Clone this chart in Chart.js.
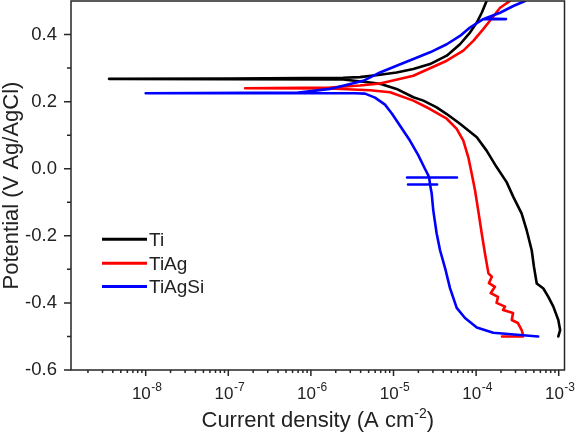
<!DOCTYPE html>
<html><head><meta charset="utf-8">
<script src="https://cdn.jsdelivr.net/npm/chart.js@4.4.1/dist/chart.umd.min.js"></script>
<style>html,body{margin:0;padding:0;background:#fff;}canvas{display:block;}</style>
</head><body>
<canvas id="c" width="575" height="439"></canvas>
<script>
// ---- data (current density in A cm^-2, potential in V vs Ag/AgCl) ----
const seriesNames = ['Ti', 'TiAg', 'TiAgSi'];
const seriesColors = ['#000000', '#ff0000', '#0000ff'];

const tiCurrent = [9.89e-4, 1.04e-3, 9.89e-4, 8.61e-4, 7.49e-4, 6.52e-4, 5.42e-4, 5.02e-4, 4.71e-4, 4.10e-4, 3.56e-4, 2.82e-4, 2.34e-4, 1.77e-4, 1.34e-4, 1.02e-4, 6.38e-5, 4.41e-5, 3.33e-5, 2.30e-5, 1.74e-5, 1.09e-5, 6.87e-6, 5.2e-6, 2.47e-6, 3.6e-9, 1.05e-7, 2.45e-6, 3.93e-6, 6.87e-6, 1.09e-5, 1.74e-5, 2.77e-5, 4.41e-5, 6.38e-5, 8.43e-5, 1.02e-4, 1.17e-4, 1.34e-4];
const tiPotential = [-0.500, -0.481, -0.451, -0.411, -0.382, -0.357, -0.342, -0.293, -0.243, -0.184, -0.134, -0.084, -0.040, 0.005, 0.054, 0.094, 0.134, 0.163, 0.183, 0.203, 0.213, 0.238, 0.253, 0.257, 0.266, 0.268, 0.269, 0.271, 0.273, 0.280, 0.287, 0.297, 0.312, 0.337, 0.371, 0.406, 0.436, 0.465, 0.500];

const tiAgCurrent = [2.06e-4, 3.7e-4, 3.7e-4, 3.56e-4, 3.21e-4, 2.7e-4, 2.8e-4, 2.12e-4, 2.24e-4, 1.77e-4, 1.84e-4, 1.5e-4, 1.69e-4, 1.43e-4, 1.55e-4, 1.41e-4, 1.28e-4, 1.17e-4, 1.06e-4, 9.70e-5, 8.85e-5, 8.05e-5, 7.0e-5, 5.82e-5, 4.41e-5, 2.77e-5, 1.74e-5, 9.1e-6, 5.2e-6, 1.7e-6, 1.6e-7, 1.7e-6, 3.93e-6, 6.87e-6, 1.74e-5, 4.41e-5, 7.0e-5, 9.25e-5, 1.22e-4, 1.47e-4, 1.95e-4, 2.57e-4];
const tiAgPotential = [-0.500, -0.500, -0.495, -0.481, -0.460, -0.451, -0.430, -0.421, -0.411, -0.400, -0.382, -0.371, -0.352, -0.341, -0.322, -0.312, -0.253, -0.193, -0.124, -0.064, -0.015, 0.034, 0.084, 0.119, 0.149, 0.178, 0.203, 0.228, 0.234, 0.239, 0.240, 0.242, 0.248, 0.254, 0.277, 0.322, 0.352, 0.381, 0.416, 0.441, 0.480, 0.500];

const tiAgSiCurrent = [5.64e-4, 1.61e-4, 1.02e-4, 7.34e-5, 5.82e-5, 4.83e-5, 4.21e-5, 3.66e-5, 3.33e-5, 3.03e-5, 2.90e-5, 2.77e-5, 3.37e-5, 1.5e-5, 2.77e-5, 2.70e-5, 5.87e-5, 1.46e-5, 2.70e-5, 2.64e-5, 2.40e-5, 2.0e-5, 1.58e-5, 1.2e-5, 9.59e-6, 7.89e-6, 5.97e-6, 4.52e-6, 3.4e-6, 1e-8, 1.83e-7, 6.73e-7, 1.70e-6, 4.31e-6, 6.87e-6, 1.09e-5, 1.74e-5, 2.77e-5, 4.41e-5, 6.38e-5, 8.43e-5, 1.22e-4, 2.30e-4, 1.28e-4, 1.95e-4, 2.82e-4, 3.91e-4];
const tiAgSiPotential = [-0.500, -0.489, -0.473, -0.445, -0.415, -0.356, -0.296, -0.243, -0.193, -0.124, -0.074, -0.047, -0.047, -0.047, -0.047, -0.026, -0.026, -0.026, -0.026, -0.020, 0.000, 0.040, 0.084, 0.128, 0.164, 0.191, 0.212, 0.224, 0.225, 0.225, 0.226, 0.226, 0.238, 0.262, 0.287, 0.307, 0.327, 0.347, 0.371, 0.396, 0.421, 0.446, 0.446, 0.448, 0.465, 0.485, 0.500];

const yTickValues = [-0.6, -0.4, -0.2, 0.0, 0.2, 0.4];
const yMinorTickValues = [-0.5, -0.3, -0.1, 0.1, 0.3];
const xDecadeExponents = [-8, -7, -6, -5, -4, -3];
const xTitleMain = 'Current density (A cm';
const xTitleSup = '-2';
const xTitleEnd = ')';
const yTitle = 'Potential (V Ag/AgCl)';

const FONT = '"Liberation Sans", Arial, sans-serif';

function toPoints(xs, ys) { return xs.map((v, i) => ({ x: v, y: ys[i] })); }

const datasets = [
  { label: seriesNames[0], data: toPoints(tiCurrent, tiPotential), borderColor: seriesColors[0], order: 3 },
  { label: seriesNames[1], data: toPoints(tiAgCurrent, tiAgPotential), borderColor: seriesColors[1], order: 2 },
  { label: seriesNames[2], data: toPoints(tiAgSiCurrent, tiAgSiPotential), borderColor: seriesColors[2], order: 1 }
].map(d => Object.assign(d, { showLine: true, borderWidth: 2.6, pointRadius: 0, tension: 0, fill: false, borderJoinStyle: 'round', borderCapStyle: 'round' }));

const decorPlugin = {
  id: 'decor',
  afterDatasetsDraw(chart) {
    const { ctx, chartArea: a, scales: { x, y } } = chart;
    ctx.save();
    ctx.strokeStyle = '#262626';
    ctx.fillStyle = '#262626';
    ctx.lineWidth = 1.5;
    ctx.strokeRect(a.left, a.top, a.right - a.left, a.bottom - a.top);
    ctx.beginPath();
    yTickValues.forEach(v => { const p = y.getPixelForValue(v); ctx.moveTo(a.left - 7, p); ctx.lineTo(a.left, p); });
    yMinorTickValues.forEach(v => { const p = y.getPixelForValue(v); ctx.moveTo(a.left - 4, p); ctx.lineTo(a.left, p); });
    xDecadeExponents.forEach(e => { const p = x.getPixelForValue(Math.pow(10, e)); ctx.moveTo(p, a.bottom); ctx.lineTo(p, a.bottom + 6); });
    for (let e = -10; e <= -3; e++) {
      for (let m = 2; m <= 9; m++) {
        const v = m * Math.pow(10, e);
        if (v < x.min || v > x.max) continue;
        const p = x.getPixelForValue(v);
        ctx.moveTo(p, a.bottom); ctx.lineTo(p, a.bottom + 3);
      }
    }
    ctx.stroke();

    // y tick labels
    ctx.fillStyle = '#222';
    ctx.font = '18.5px ' + FONT;
    ctx.textAlign = 'right';
    ctx.textBaseline = 'middle';
    yTickValues.forEach(v => ctx.fillText(v.toFixed(1), a.left - 14, y.getPixelForValue(v)));

    // x tick labels 10^n
    ctx.textBaseline = 'alphabetic';
    ctx.textAlign = 'left';
    xDecadeExponents.forEach(e => {
      const p = x.getPixelForValue(Math.pow(10, e));
      ctx.font = '17px ' + FONT; const w1 = ctx.measureText('10').width;
      ctx.font = '12px ' + FONT; const w2 = ctx.measureText(String(e)).width;
      const start = p + 1 - (w1 + w2) / 2;
      ctx.font = '17px ' + FONT; ctx.fillText('10', start, a.bottom + 28.5);
      ctx.font = '12px ' + FONT; ctx.fillText(String(e), start + w1 + 0.5, a.bottom + 20.8);
    });

    // x title
    const cx = (a.left + a.right) / 2;
    ctx.font = '22px ' + FONT; const t1 = ctx.measureText(xTitleMain).width; const t3 = ctx.measureText(xTitleEnd).width;
    ctx.font = '14px ' + FONT; const t2 = ctx.measureText(xTitleSup).width;
    const sx = cx - (t1 + t2 + t3) / 2;
    ctx.font = '22px ' + FONT; ctx.fillText(xTitleMain, sx, 426.5);
    ctx.font = '14px ' + FONT; ctx.fillText(xTitleSup, sx + t1, 417.5);
    ctx.font = '22px ' + FONT; ctx.fillText(xTitleEnd, sx + t1 + t2, 426.5);

    // y title
    ctx.save();
    ctx.translate(18, (a.top + a.bottom) / 2);
    ctx.rotate(-Math.PI / 2);
    ctx.textAlign = 'center';
    ctx.font = '22px ' + FONT;
    ctx.fillText(yTitle, 0, 0);
    ctx.restore();

    // legend
    const legY = [239.3, 263.3, 286.5];
    chart.data.datasets.forEach((d, i) => {
      ctx.strokeStyle = d.borderColor;
      ctx.lineWidth = 3;
      ctx.beginPath(); ctx.moveTo(102, legY[i]); ctx.lineTo(147, legY[i]); ctx.stroke();
      ctx.fillStyle = '#222';
      ctx.font = '19px ' + FONT;
      ctx.textAlign = 'left';
      ctx.fillText(d.label, 149, legY[i] + 6.5);
    });
    ctx.restore();
  }
};

new Chart(document.getElementById('c'), {
  type: 'scatter',
  data: { datasets },
  options: {
    responsive: false,
    animation: false,
    devicePixelRatio: 1,
    layout: { padding: { left: 71, right: 10.5, top: 1, bottom: 69 } },
    plugins: { legend: { display: false }, tooltip: { enabled: false } },
    scales: {
      x: { type: 'logarithmic', min: 1.247e-9, max: 1.175e-3, display: false },
      y: { type: 'linear', min: -0.6, max: 0.5, display: false }
    }
  },
  plugins: [decorPlugin]
});
</script>
</body></html>
